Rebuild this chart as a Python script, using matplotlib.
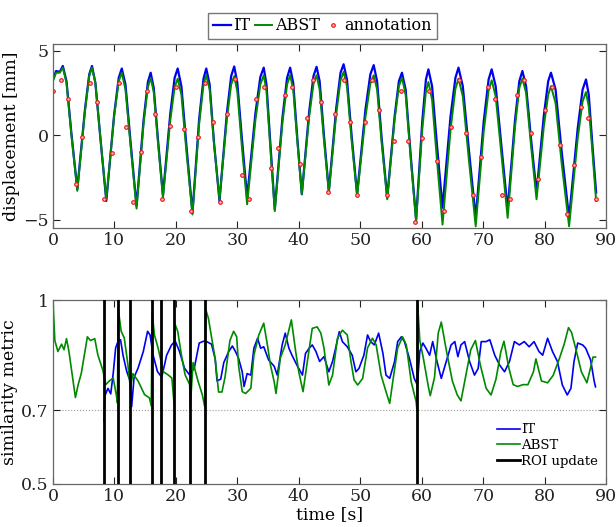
import numpy as np
import matplotlib
matplotlib.use("Agg")
from matplotlib import pyplot as plt

plt.rcParams['font.family'] = ['DejaVu Serif']
plt.rcParams['mathtext.fontset'] = 'dejavuserif'

# ---- desplazamiento (panel superior) ----
# tiempos de los puntos clave (valles, picos y flancos)
disp_t = [0.0, 0.5, 1.1, 1.6, 2.2, 3.0, 3.96,
          5.2, 5.9, 6.35, 6.9, 7.75, 8.68,
          9.95, 10.7, 11.2, 11.8, 12.65, 13.6,
          14.75, 15.45, 15.9, 16.4, 17.1, 17.9,
          19.1, 19.8, 20.3, 20.9, 21.75, 22.7,
          23.8, 24.5, 24.95, 25.5, 26.2, 27.1,
          28.3, 29.0, 29.5, 30.0, 30.75, 31.6,
          32.95, 33.75, 34.3, 34.75, 35.4, 36.1,
          37.35, 38.1, 38.6, 39.1, 39.75, 40.5,
          41.7, 42.4, 42.9, 43.4, 44.1, 44.9,
          46.1, 46.8, 47.3, 47.85, 48.6, 49.5,
          50.85, 51.65, 52.2, 52.75, 53.5, 54.4,
          55.6, 56.3, 56.8, 57.4, 58.2, 59.1,
          60.1, 60.7, 61.1, 61.7, 62.5, 63.4,
          64.7, 65.5, 66.0, 66.7, 67.7, 68.8,
          70.1, 70.9, 71.4, 72.05, 73.0, 74.0,
          75.2, 75.9, 76.4, 77.0, 77.8, 78.7,
          79.9, 80.6, 81.05, 81.8, 82.8, 84.0,
          85.4, 86.2, 86.75, 87.2, 87.8, 88.4]
it_disp = [3.3, 3.8, 3.75, 4.1, 3.2, 0.1, -3.2,
           1.5, 3.6, 4.1, 3.1, -0.3, -3.9,
           1.2, 3.4, 3.95, 3.0, -0.5, -4.2,
           0.9, 3.15, 3.7, 2.8, -0.3, -3.55,
           1.3, 3.4, 3.95, 2.9, -0.75, -4.6,
           1.0, 3.35, 3.95, 3.0, -0.4, -3.9,
           1.3, 3.5, 4.07, 3.1, -0.2, -3.7,
           1.3, 3.45, 4.0, 3.0, -0.6, -4.4,
           1.05, 3.4, 4.0, 3.1, -0.1, -3.5,
           1.4, 3.5, 4.05, 3.2, 0.0, -3.3,
           1.6, 3.7, 4.2, 3.3, 0.0, -3.5,
           1.5, 3.6, 4.15, 3.2, -0.2, -3.7,
           1.1, 3.2, 3.7, 2.7, -1.1, -5.0,
           0.8, 3.3, 3.9, 2.9, -0.6, -4.3,
           1.1, 3.4, 4.0, 2.9, -0.9, -4.9,
           0.8, 3.3, 3.9, 2.9, -0.7, -4.4,
           0.9, 3.2, 3.8, 2.9, -0.2, -3.4,
           1.2, 3.2, 3.7, 2.7, -1.0, -4.9,
           0.4, 2.7, 3.3, 2.4, -0.6, -3.4]
abst_disp = [3.2, 3.7, 3.7, 4.0, 3.1, 0.0, -3.3,
             1.4, 3.5, 4.0, 3.1, -0.3, -3.8,
             1.1, 3.2, 3.7, 2.7, -0.7, -4.35,
             0.7, 2.85, 3.4, 2.55, -0.5, -3.7,
             0.9, 2.85, 3.35, 2.4, -1.1, -4.7,
             0.7, 3.0, 3.55, 2.7, -0.5, -3.8,
             0.95, 3.0, 3.5, 2.6, -0.7, -4.1,
             0.9, 3.0, 3.55, 2.6, -0.9, -4.5,
             0.75, 3.0, 3.55, 2.7, -0.3, -3.5,
             1.1, 3.05, 3.55, 2.7, -0.3, -3.4,
             1.25, 3.25, 3.75, 2.9, -0.3, -3.6,
             1.05, 3.05, 3.55, 2.7, -0.5, -3.8,
             0.9, 2.9, 3.4, 2.4, -1.3, -5.1,
             0.3, 2.6, 3.15, 2.1, -1.5, -5.3,
             0.3, 2.75, 3.35, 2.3, -1.5, -5.4,
             0.2, 2.65, 3.25, 2.3, -1.2, -4.9,
             0.5, 2.8, 3.35, 2.5, -0.6, -3.8,
             0.55, 2.4, 2.9, 1.9, -1.7, -5.4,
             -0.2, 2.0, 2.55, 1.7, -1.0, -3.9]

# anotaciones (puntos rojos)
annot_t = [0.05, 1.28, 2.52, 3.72, 4.77, 6.0, 7.21, 8.32, 9.55, 10.72,
           11.85, 13.07, 14.28, 15.37, 16.65, 17.82, 19.02, 20.08, 21.31, 22.48,
           23.68, 24.82, 26.01, 27.15, 28.4, 29.57, 30.74, 31.88, 33.1, 34.27,
           35.52, 36.66, 37.79, 38.92, 40.13, 41.32, 42.4, 43.67, 44.76, 45.95,
           47.31, 48.39, 49.48, 50.73, 51.92, 53.01, 54.36, 55.45, 56.64, 57.78,
           59.0, 60.06, 61.25, 62.45, 63.69, 64.78, 66.03, 67.22, 68.41, 69.66,
           70.8, 71.94, 73.08, 74.38, 75.47, 76.72, 77.8, 78.99, 80.13, 81.22,
           82.52, 83.61, 84.85, 85.94, 87.13, 88.38]
annot_disp = [2.62, 3.28, 2.14, -2.87, -0.1, 3.1, 1.94, -3.76, -1.03, 3.08,
              0.51, -3.99, -1.02, 2.6, 1.25, -3.78, 0.53, 2.83, 0.36, -4.49,
              -0.11, 3.08, 0.79, -3.99, 1.25, 3.3, -2.39, -3.78, 2.14, 2.83,
              -1.95, -0.79, 2.37, 2.83, -1.72, 1.04, 3.28, 1.94, -3.34, 1.25,
              3.28, 0.79, -3.56, 0.79, 3.28, 1.48, -3.56, -0.37, 2.59, -0.37,
              -5.14, -0.14, 2.59, -1.52, -4.49, 0.51, 3.28, 0.1, -3.54, -1.27,
              2.83, 2.14, -3.56, -3.76, 2.37, 3.28, 0.1, -2.61, 1.5, 2.87,
              -0.59, -4.69, -1.74, 1.64, 1.01, -3.76]

# ---- similitud (panel inferior) ----
it_sim_t = [8.3, 8.45, 8.95, 9.4, 9.8, 10.2, 10.6, 11.0, 11.4, 12.0,
            12.55, 12.8, 13.2, 13.85, 14.7, 15.4, 15.8, 16.3, 17.0, 17.7,
            18.5, 19.3, 19.9, 20.6, 21.4, 22.2, 23.0, 23.8, 24.5, 25.0,
            25.8, 26.4, 26.7, 27.3, 27.8, 28.6, 29.2, 29.7, 30.2, 30.8,
            31.1, 31.6, 32.2, 32.7, 33.3, 33.8, 34.3, 35.1, 36.0, 36.5,
            37.3, 37.8, 38.4, 38.9, 39.7, 40.6, 41.1, 41.7, 42.2, 42.8,
            43.4, 44.1, 44.9, 45.5, 46.0, 46.6, 47.1, 47.9, 48.7, 49.3,
            49.8, 50.6, 51.2, 51.7, 52.3, 53.0, 53.7, 54.2, 54.8, 55.6,
            56.1, 56.7, 57.2, 58.0, 58.8, 59.3, 59.7, 60.2, 60.7, 61.3,
            61.8, 62.5, 63.2, 64.0, 64.8, 65.4, 65.9, 66.4, 67.0, 67.8,
            68.6, 69.2, 69.7, 70.5, 71.1, 71.9, 72.7, 73.5, 74.3, 75.1,
            75.9, 76.7, 77.5, 78.3, 79.1, 79.7, 80.5, 81.3, 82.1, 82.9,
            83.7, 84.3, 84.8, 85.4, 86.2, 86.7, 87.5, 88.1, 88.3]
it_sim = [0.67, 0.74, 0.76, 0.745, 0.80, 0.87, 0.888, 0.892, 0.85, 0.806,
          0.78, 0.71, 0.79, 0.815, 0.86, 0.915, 0.905, 0.85, 0.806, 0.79,
          0.85, 0.878, 0.888, 0.86, 0.815, 0.797, 0.815, 0.883, 0.888, 0.887,
          0.88, 0.84, 0.78, 0.785, 0.83, 0.86, 0.875, 0.86, 0.842, 0.805,
          0.765, 0.80, 0.796, 0.869, 0.896, 0.869, 0.873, 0.837, 0.82, 0.796,
          0.878, 0.91, 0.869, 0.85, 0.823, 0.796, 0.855, 0.869, 0.878, 0.86,
          0.833, 0.846, 0.805, 0.833, 0.869, 0.914, 0.887, 0.873, 0.85, 0.805,
          0.814, 0.85, 0.905, 0.887, 0.878, 0.91, 0.855, 0.796, 0.787, 0.833,
          0.887, 0.9, 0.887, 0.842, 0.787, 0.769, 0.86, 0.883, 0.869, 0.85,
          0.887, 0.833, 0.787, 0.833, 0.878, 0.887, 0.846, 0.878, 0.887, 0.833,
          0.796, 0.814, 0.887, 0.887, 0.892, 0.85, 0.823, 0.805, 0.833, 0.887,
          0.878, 0.887, 0.873, 0.887, 0.86, 0.85, 0.896, 0.86, 0.833, 0.769,
          0.742, 0.76, 0.833, 0.883, 0.878, 0.869, 0.837, 0.778, 0.764]

abst_sim_t = [0.0, 0.3, 0.8, 1.4, 1.8, 2.2, 2.6, 3.1, 3.65, 4.1,
              4.6, 5.2, 5.6, 6.1, 6.8, 7.3, 8.1, 8.6, 9.1, 9.8,
              10.3, 10.5, 10.6, 11.1, 11.6, 12.2, 12.6, 13.0, 13.85, 14.9,
              15.7, 16.0, 16.15, 16.5, 17.1, 17.5, 17.9, 18.7, 19.35, 19.7,
              19.85, 20.3, 20.9, 21.5, 22.25, 22.35, 22.8, 23.6, 24.3, 24.7,
              24.85, 25.3, 25.8, 26.4, 26.95, 27.5, 28.0, 28.8, 29.4, 29.9,
              30.2, 30.8, 31.35, 32.2, 32.7, 33.5, 34.3, 34.9, 35.4, 36.0,
              36.3, 37.0, 37.8, 38.8, 39.5, 40.0, 40.7, 41.4, 42.2, 43.0,
              43.6, 44.1, 44.9, 45.5, 46.3, 47.1, 47.9, 48.5, 49.0, 49.6,
              50.4, 51.2, 52.0, 52.6, 53.4, 54.2, 54.8, 55.3, 56.1, 56.9,
              57.5, 58.3, 59.1, 59.25, 59.35, 59.7, 60.3, 61.1, 61.4, 62.1,
              62.7, 63.2, 64.0, 65.0, 65.8, 66.4, 67.2, 68.0, 68.75, 69.6,
              70.5, 71.3, 72.1, 72.9, 73.4, 74.2, 74.9, 75.6, 76.5, 77.3,
              78.2, 78.6, 79.5, 80.5, 81.4, 82.4, 83.2, 83.9, 84.4, 85.2,
              86.0, 86.9, 87.4, 87.9, 88.3]
abst_sim = [1.0, 0.89, 0.86, 0.88, 0.865, 0.895, 0.86, 0.80, 0.735, 0.77,
            0.80, 0.86, 0.90, 0.89, 0.895, 0.851, 0.81, 0.77, 0.779, 0.788,
            0.743, 0.72, 0.978, 0.915, 0.897, 0.824, 0.76, 0.80, 0.78, 0.743,
            0.734, 0.712, 0.965, 0.906, 0.87, 0.84, 0.806, 0.797, 0.788, 0.72,
            0.935, 0.915, 0.851, 0.797, 0.77, 0.71, 0.83, 0.78, 0.743, 0.71,
            0.975, 0.95, 0.90, 0.84, 0.75, 0.75, 0.79, 0.89, 0.915, 0.90,
            0.823, 0.751, 0.746, 0.76, 0.85, 0.905, 0.937, 0.878, 0.823, 0.778,
            0.746, 0.842, 0.878, 0.946, 0.86, 0.805, 0.751, 0.833, 0.923, 0.927,
            0.91, 0.87, 0.769, 0.796, 0.896, 0.918, 0.905, 0.833, 0.783, 0.769,
            0.787, 0.87, 0.896, 0.878, 0.796, 0.751, 0.719, 0.778, 0.87, 0.90,
            0.878, 0.778, 0.724, 0.70, 0.99, 0.89, 0.84, 0.764, 0.74, 0.79,
            0.91, 0.94, 0.865, 0.78, 0.742, 0.726, 0.795, 0.865, 0.89, 0.82,
            0.76, 0.742, 0.785, 0.86, 0.888, 0.815, 0.77, 0.765, 0.77, 0.77,
            0.805, 0.84, 0.78, 0.775, 0.795, 0.84, 0.88, 0.925, 0.912, 0.86,
            0.805, 0.775, 0.81, 0.845, 0.845]

# instantes de actualizacion del ROI
roi_t = [8.3, 10.6, 12.6, 16.05, 17.5, 19.75, 22.35, 24.8, 59.3]

c_it = '#0000f0'
c_abst = '#008a00'

fig = plt.figure(figsize=(6.16, 5.27), dpi=100)
ax1 = fig.add_axes([0.086, 0.5674, 0.8977, 0.3491])
ax2 = fig.add_axes([0.086, 0.0816, 0.8977, 0.3491])

# panel superior
l1, = ax1.plot(disp_t, it_disp, color=c_it, lw=1.6, label='IT')
l2, = ax1.plot(disp_t, abst_disp, color=c_abst, lw=1.4, label='ABST')
l3, = ax1.plot(annot_t, annot_disp, 'o', ls='none', ms=2.6, mew=0.8,
               mfc='#ffb0b0', mec='#ee1111', label='annotation')
ax1.set_xlim(0, 90)
ax1.set_ylim(-5.5, 5.4)
ax1.set_yticks([-5, 0, 5])
ax1.set_xticks(np.arange(0, 91, 10))
ax1.set_ylabel('displacement [mm]', fontsize=12.5, labelpad=2)
fig.legend(handles=[l1, l2, l3], loc='center', bbox_to_anchor=(0.5235, 0.951),
           ncol=3, fontsize=11.5, frameon=True, fancybox=False,
           edgecolor='#555555', handlelength=1.1, handletextpad=0.15,
           columnspacing=0.3, borderpad=0.3, borderaxespad=0)

# panel inferior
ax2.axhline(0.7, color='#999999', lw=0.8, ls=':', zorder=1)
ax2.plot(it_sim_t, it_sim, color=c_it, lw=1.2, label='IT')
ax2.plot(abst_sim_t, abst_sim, color=c_abst, lw=1.2, label='ABST')
for i, t in enumerate(roi_t):
    ax2.axvline(t, color='black', lw=2, zorder=4,
                label='ROI update' if i == 0 else None)
ax2.set_xlim(0, 90)
ax2.set_ylim(0.5, 1)
ax2.set_yticks([0.5, 0.7, 1])
ax2.set_yticklabels(['0.5', '0.7', '1'])
ax2.set_xticks(np.arange(0, 91, 10))
ax2.set_xlabel('time [s]', fontsize=12.5, labelpad=1)
ax2.set_ylabel('similarity metric', fontsize=12.5, labelpad=2)
ax2.legend(loc='lower right', bbox_to_anchor=(0.995, 0.06), fontsize=9.5,
           frameon=False, handlelength=1.7, handletextpad=0.1,
           labelspacing=0.2, borderaxespad=0)

for ax in (ax1, ax2):
    ax.tick_params(direction='in', top=True, right=True, length=5,
                   width=0.8, labelsize=12.5, pad=3, colors='#222222')
    for s in ax.spines.values():
        s.set_color('#666666')
        s.set_linewidth(0.9)

fig.savefig('out.png', dpi=100)
